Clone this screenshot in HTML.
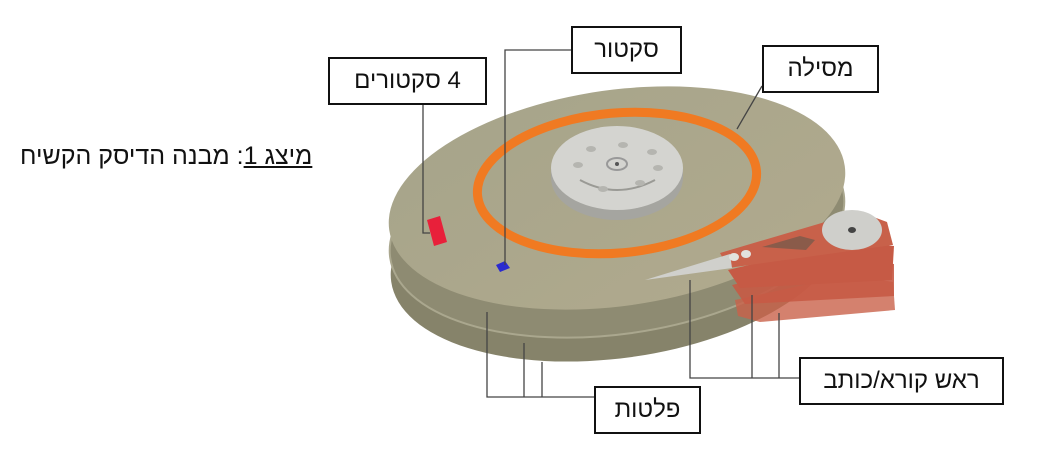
<!DOCTYPE html>
<html><head><meta charset="utf-8"><style>
html,body{margin:0;padding:0;background:#fff;}
body{width:1052px;height:454px;overflow:hidden;position:relative;font-family:"Liberation Sans","Noto Sans CJK SC",sans-serif;}
.box{position:absolute;border:2px solid #111;background:#fff;box-sizing:border-box;font-size:24px;color:#111;text-align:center;direction:rtl;}
.cap{position:absolute;left:20px;top:142px;font-size:25px;direction:rtl;color:#111;white-space:nowrap;}
</style></head><body>
<svg width="1052" height="454" style="position:absolute;left:0;top:0">
<defs>
<linearGradient id="top" x1="0" y1="0" x2="1" y2="1"><stop offset="0" stop-color="#a6a48a"/><stop offset="1" stop-color="#b1aa8e"/></linearGradient>
</defs>
<!-- platters -->
<ellipse cx="617" cy="250" rx="228" ry="108" transform="rotate(-8 617 250)" fill="#86836a"/>
<ellipse cx="617" cy="226" rx="229" ry="108" transform="rotate(-8 617 226)" fill="#8e8b72" stroke="#aaa78e" stroke-width="2"/>
<ellipse cx="617" cy="198" rx="230" ry="108" transform="rotate(-8 617 198)" fill="url(#top)"/>
<!-- track -->
<ellipse cx="617" cy="183" rx="140" ry="70" transform="rotate(-5 617 183)" fill="none" stroke="#f07a22" stroke-width="9"/>
<!-- spindle -->
<ellipse cx="617" cy="178" rx="66" ry="42" fill="#a5a5a0"/>
<rect x="551" y="168" width="132" height="10" fill="#a5a5a0"/>
<ellipse cx="617" cy="168" rx="66" ry="42" fill="#d4d4d0"/>
<path d="M580,180 Q617,200 655,180" stroke="#9a9a95" stroke-width="2" fill="none"/>
<ellipse cx="617" cy="164" rx="10" ry="6" fill="none" stroke="#999" stroke-width="2"/>
<circle cx="617" cy="164" r="2" fill="#555"/>
<g fill="#b5b5b0"><ellipse cx="591" cy="149" rx="5" ry="3"/><ellipse cx="623" cy="145" rx="5" ry="3"/><ellipse cx="652" cy="152" rx="5" ry="3"/><ellipse cx="658" cy="168" rx="5" ry="3"/><ellipse cx="640" cy="183" rx="5" ry="3"/><ellipse cx="603" cy="189" rx="5" ry="3"/><ellipse cx="578" cy="165" rx="5" ry="3"/></g>
<!-- sectors -->
<polygon points="427,220 440,216 447,242 434,246" fill="#e8203a"/>
<polygon points="496,265 505,261 510,268 500,272" fill="#2a2ad0"/>
<!-- arm stack -->
<polygon points="735,300 850,275 893,282 895,310 760,322 738,316" fill="#c9614a" opacity="0.8"/>
<polygon points="732,285 848,258 894,264 894,296 745,304" fill="#c65a45" opacity="0.9"/>
<polygon points="728,270 845,242 894,246 892,280 740,288" fill="#c65a45"/>
<polygon points="720,253 825,222 860,212 887,222 893,245 728,268" fill="#c8614a"/>
<polygon points="645,280 730,254 732,268" fill="#d0d0cc"/>
<polygon points="762,247 800,236 815,240 806,250" fill="#8a5b4a"/>
<ellipse cx="852" cy="230" rx="30" ry="20" fill="#cfcfcb"/>
<ellipse cx="852" cy="230" rx="4" ry="3" fill="#444"/>
<ellipse cx="734" cy="257" rx="5" ry="4" fill="#e2e2de"/>
<ellipse cx="746" cy="254" rx="5" ry="4" fill="#e2e2de"/>
<!-- leader lines -->
<g stroke="#444" stroke-width="1.3" fill="none">
<polyline points="423,105 423,233 430,233"/>
<polyline points="571,50 505,50 505,265"/>
<line x1="762" y1="86" x2="737" y2="129"/>
<polyline points="487,312 487,397 594,397"/>
<polyline points="524,343 524,397"/>
<polyline points="542,362 542,397"/>
<polyline points="690,280 690,378 799,378"/>
<polyline points="752,295 752,378"/>
<polyline points="779,313 779,378"/>
</g>
</svg>
<div class="cap"><span style="text-decoration:underline">מיצג 1</span>: מבנה הדיסק הקשיח</div>
<div class="box" style="left:328px;top:57px;width:159px;height:48px;line-height:44px;">4 סקטורים</div>
<div class="box" style="left:571px;top:26px;width:111px;height:48px;line-height:44px;">סקטור</div>
<div class="box" style="left:762px;top:45px;width:117px;height:48px;line-height:44px;">מסילה</div>
<div class="box" style="left:799px;top:357px;width:205px;height:48px;line-height:44px;">ראש קורא/כותב</div>
<div class="box" style="left:594px;top:386px;width:107px;height:48px;line-height:44px;">פלטות</div>
</body></html>
